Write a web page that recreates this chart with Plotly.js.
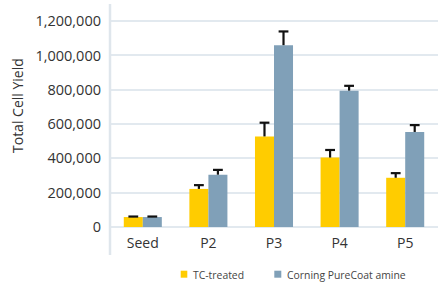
<!DOCTYPE html>
<html>
<head>
<meta charset="utf-8">
<script src="https://cdn.plot.ly/plotly-3.0.1.min.js"></script>
<style>html,body{margin:0;padding:0;background:#fff;}#chart{width:438px;height:283px;}</style>
</head>
<body>
<div id="chart"></div>
<script>
var categories = ["Seed", "P2", "P3", "P4", "P5"];
var tcTreated = [58000, 222000, 528000, 405000, 287000];
var tcTreatedErr = [3000, 22000, 80000, 44000, 27000];
var pureCoat = [58000, 305000, 1060000, 795000, 554000];
var pureCoatErr = [3000, 28000, 80000, 28000, 40000];
var seriesNames = ["TC-treated", "Corning PureCoat amine"];
var seriesColors = ['#FFCC00', '#80A0B8'];
var yTicks = [0, 200000, 400000, 600000, 800000, 1000000, 1200000];

var fontFam = '"Open Sans", "Noto Sans", sans-serif';
var M = {l: 110, r: 0, t: 4, b: 56};
var W = 438, H = 283;
var pw = W - M.l - M.r, ph = H - M.t - M.b;
function px2x(px) { return (px - M.l) / pw; }
function py2y(py) { return (H - M.b - py) / ph; }

function capsOf(vals, errs) { return vals.map(function (v, i) { return v + errs[i]; }); }

function barTrace(i, vals, errs) {
  return {type: 'bar', name: seriesNames[i], x: categories, y: vals,
    marker: {color: seriesColors[i]}, offsetgroup: String(i), showlegend: false,
    error_y: {type: 'data', symmetric: false, array: errs, arrayminus: vals.map(function(){return 0;}),
              color: '#111', thickness: 2.2, width: 0}};
}
function capTrace(i, vals, errs) {
  return {type: 'scatter', mode: 'markers', x: categories, y: capsOf(vals, errs),
    offsetgroup: String(i), showlegend: false, hoverinfo: 'skip',
    marker: {symbol: 'line-ew', size: 7, color: '#111', line: {color: '#111', width: 2.2}}};
}

var traces = [
  barTrace(0, tcTreated, tcTreatedErr),
  barTrace(1, pureCoat, pureCoatErr),
  capTrace(0, tcTreated, tcTreatedErr),
  capTrace(1, pureCoat, pureCoatErr)
];

var legendItems = [
  {sq: [180.7, 187.3], tx: 190.5, name: seriesNames[0], color: seriesColors[0]},
  {sq: [274.3, 281.3], tx: 284.5, name: seriesNames[1], color: seriesColors[1]}
];
var legendTop = 270.7, legendBot = 277.7, legendMid = 274.5;

var shapes = [
  {type: 'line', xref: 'paper', yref: 'paper', x0: 0, x1: 0, y0: py2y(255), y1: 1,
   line: {color: '#dfe6ec', width: 2.5}}
];
var annotations = [
  {text: 'Total Cell Yield', xref: 'paper', yref: 'paper', x: px2x(17), y: py2y(106),
   xanchor: 'center', yanchor: 'middle', textangle: -90, showarrow: false,
   font: {size: 14, color: '#333'}}
];
legendItems.forEach(function (it) {
  shapes.push({type: 'rect', xref: 'paper', yref: 'paper',
    x0: px2x(it.sq[0]), x1: px2x(it.sq[1]), y0: py2y(legendBot), y1: py2y(legendTop),
    fillcolor: it.color, line: {width: 0}});
  annotations.push({text: it.name, xref: 'paper', yref: 'paper', x: px2x(it.tx), y: py2y(legendMid),
    xanchor: 'left', yanchor: 'middle', showarrow: false, font: {size: 10.4, color: '#444'}});
});

var layout = {
  width: W, height: H,
  margin: M,
  paper_bgcolor: '#fff', plot_bgcolor: '#fff',
  font: {family: fontFam, color: '#333', size: 14},
  barmode: 'group', bargap: 0.42, bargroupgap: 0,
  scattermode: 'group', scattergap: 0.42,
  showlegend: false,
  xaxis: {type: 'category', showgrid: false, zeroline: false, showline: false,
          ticks: '', tickfont: {size: 14, color: '#333'}, ticklabelstandoff: 6},
  yaxis: {range: [0, 1300000], tickvals: yTicks, tickformat: ',d',
          showgrid: true, gridcolor: '#e2e9ef', gridwidth: 2,
          zeroline: true, zerolinecolor: '#e2e9ef', zerolinewidth: 2,
          showline: false, ticks: '', ticklabelstandoff: 8,
          tickfont: {size: 14.5, color: '#333'}},
  shapes: shapes,
  annotations: annotations
};

Plotly.newPlot('chart', traces, layout, {displayModeBar: false, staticPlot: true});
</script>
</body>
</html>
